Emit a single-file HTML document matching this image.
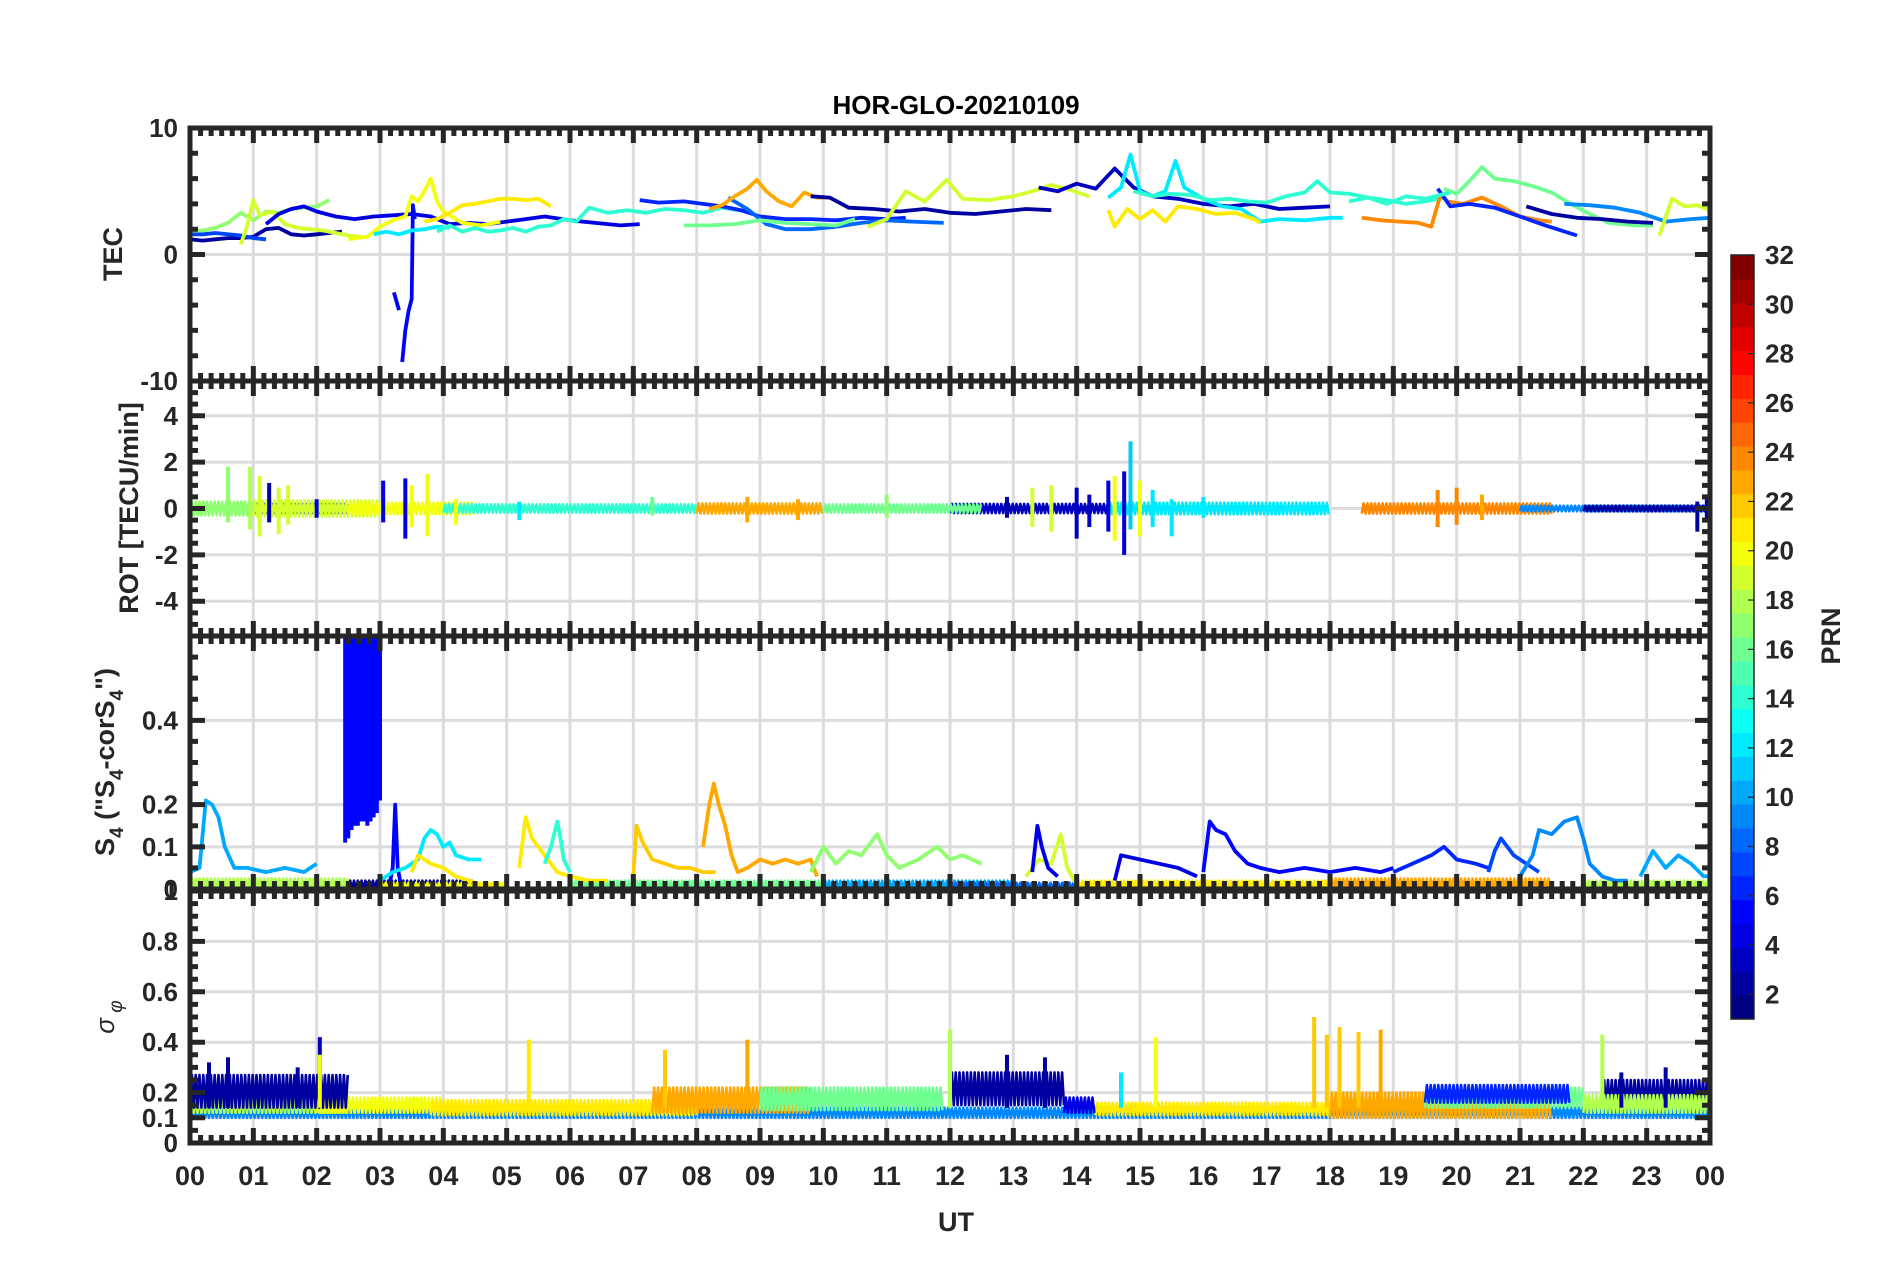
<!DOCTYPE html>
<html><head><meta charset="utf-8"><style>
html,body{margin:0;padding:0;background:#fff;}
svg{display:block;font-family:"Liberation Sans",sans-serif;font-weight:bold;}
</style></head><body>
<svg id="fig" width="1902" height="1272" viewBox="0 0 1902 1272" xmlns="http://www.w3.org/2000/svg">
<text x="956" y="114" text-anchor="middle" font-size="26" fill="#000">HOR-GLO-20210109</text>
<text x="956" y="1231" text-anchor="middle" font-size="27" fill="#262626">UT</text>
<text transform="translate(122,254) rotate(-90)" text-anchor="middle" font-size="27" fill="#262626">TEC</text>
<text transform="translate(138,508) rotate(-90)" text-anchor="middle" font-size="27" fill="#262626">ROT [TECU/min]</text>
<text transform="translate(114,762) rotate(-90)" text-anchor="middle" font-size="27" fill="#262626">S<tspan font-size="19" dy="9">4</tspan><tspan dy="-9"> ("S</tspan><tspan font-size="19" dy="9">4</tspan><tspan dy="-9">-corS</tspan><tspan font-size="19" dy="9">4</tspan><tspan dy="-9">")</tspan></text>
<text transform="translate(114,1017) rotate(-90)" text-anchor="middle" font-size="26" font-weight="normal" font-style="italic" fill="#262626">σ<tspan font-size="19" dy="8"> φ</tspan></text>
<g id="plots"></g>
<g id="cbar"></g>
</svg>
<script>
// ---------- data ----------
const hourLabels = ["00","01","02","03","04","05","06","07","08","09","10","11","12","13","14","15","16","17","18","19","20","21","22","23","00"];
const tecTickVals = [-10,0,10];
const tecTickLabels = ["-10","0","10"];
const rotTickVals = [-4,-2,0,2,4];
const s4TickVals = [0,0.1,0.2,0.4];
const sigTickVals = [0,0.1,0.2,0.4,0.6,0.8,1];
const cbarTickVals = [2,4,6,8,10,12,14,16,18,20,22,24,26,28,30,32];

const tecPrn = [2,7,17,19,4,5,5,20,21,12,14,6,8,23,16,2,19,3,12,14,21,24,16,2,6,9,19,14];
const tecT = [
 [0,0.2,0.4,0.6,0.8,1.0,1.2,1.4,1.6,1.8,2.0,2.2,2.4],
 [0,0.2,0.4,0.6,0.8,1.0,1.2],
 [0,0.2,0.4,0.6,0.8,1.0,1.2,1.4,1.6,1.8,2.0,2.2],
 [0.8,0.9,1.0,1.1,1.3,1.5,1.7,1.9,2.1,2.3,2.5,2.7],
 [1.2,1.4,1.6,1.8,2.0,2.3,2.6,2.9,3.2,3.5,3.8,4.1,4.4,4.7,5.0,5.3,5.6,6.0,6.4,6.8,7.1],
 [3.22,3.3],
 [3.35,3.4,3.45,3.5,3.52,3.55],
 [2.5,2.8,3.0,3.2,3.4,3.5,3.6,3.7,3.8,3.9,4.0,4.3,4.6,4.9],
 [3.7,3.9,4.1,4.3,4.5,4.7,4.9,5.1,5.3,5.5,5.7],
 [2.9,3.1,3.3,3.5,3.7,3.9,4.1],
 [3.9,4.1,4.3,4.5,4.7,4.9,5.1,5.3,5.5,5.7,5.9,6.1,6.3,6.6,6.9,7.2,7.5,7.8,8.1,8.4,8.8],
 [7.1,7.4,7.8,8.1,8.4,8.7,9.0,9.4,9.8,10.2,10.6,11.0,11.3],
 [8.5,8.8,9.1,9.4,9.8,10.2,10.6,11.0,11.4,11.9],
 [8.2,8.4,8.6,8.8,8.95,9.1,9.3,9.5,9.7,9.9,10.1],
 [7.8,8.2,8.6,9.0,9.4,9.8,10.2,10.5],
 [9.8,10.1,10.4,10.8,11.2,11.6,12.0,12.4,12.8,13.2,13.6],
 [10.7,11.0,11.3,11.6,11.95,12.2,12.6,13.0,13.3,13.6,13.9,14.2],
 [13.4,13.7,14.0,14.3,14.6,14.9,15.2,15.6,16.0,16.4,16.8,17.2,17.6,18.0],
 [14.5,14.7,14.85,15.0,15.2,15.4,15.56,15.7,16.0,16.3,16.6,16.9,17.2,17.6,18.0,18.2],
 [14.9,15.2,15.5,15.8,16.1,16.4,16.7,17.0,17.3,17.6,17.8,18.0,18.3,18.6,18.9,19.2,19.5,19.8],
 [14.5,14.6,14.8,15.0,15.2,15.4,15.6,15.9,16.2,16.5,16.8,16.9],
 [18.5,18.8,19.1,19.4,19.6,19.75,19.85,20.1,20.4,20.7,21.0,21.3,21.5],
 [19.8,20.0,20.2,20.4,20.6,20.9,21.2,21.5,21.8,22.1,22.4,22.8,23.1],
 [21.1,21.5,21.9,22.3,22.7,23.1],
 [19.7,19.9,20.2,20.6,21.0,21.4,21.9],
 [21.7,22.1,22.5,22.9,23.3,23.7,24],
 [23.2,23.4,23.6,23.8,24],
 [18.3,18.6,18.9,19.2,19.5,19.9]
];
const tecV = [
 [1.2,1.1,1.2,1.3,1.3,1.4,2.0,2.1,1.6,1.5,1.6,1.7,1.8],
 [1.6,1.6,1.7,1.6,1.5,1.3,1.2],
 [1.9,1.9,2.1,2.5,3.3,2.7,3.4,3.3,3.6,3.7,3.8,4.3],
 [0.8,2.2,4.3,3.1,3.4,2.4,2.1,2.0,1.9,1.7,1.5,1.4],
 [2.4,3.2,3.6,3.8,3.4,3.0,2.8,3.0,3.1,3.2,3.0,2.4,2.5,2.4,2.6,2.8,3.0,2.7,2.5,2.3,2.4],
 [-3.0,-4.4],
 [-8.5,-6,-4.5,-3.5,3.9,2.8],
 [1.2,1.4,2.2,2.7,3.0,4.6,4.2,5.0,6.0,4.2,3.4,2.5,2.3,2.6],
 [2.6,2.8,3.3,3.9,4.0,4.2,4.4,4.4,4.3,4.4,3.8],
 [1.6,1.8,1.6,1.9,2.0,2.2,2.1],
 [1.8,2.3,1.8,2.1,1.8,1.9,2.1,1.8,2.2,2.3,2.8,2.6,3.7,3.3,3.5,3.3,3.6,3.5,3.3,3.7,3.4],
 [4.3,4.1,4.2,4.0,3.8,3.5,3.0,2.8,2.8,2.7,2.9,2.8,2.9],
 [4.5,3.6,2.4,2.0,2.0,2.2,2.5,2.7,2.6,2.5],
 [3.6,3.9,4.6,5.2,5.9,5.0,4.2,3.8,4.9,4.5,4.5],
 [2.3,2.3,2.4,2.7,2.5,2.4,2.3,2.8],
 [4.6,4.5,3.7,3.6,3.4,3.6,3.3,3.2,3.4,3.6,3.5],
 [2.2,2.8,5.0,4.2,5.9,4.4,4.3,4.6,5.0,5.5,5.1,4.6],
 [5.3,5.0,5.6,5.2,6.8,5.3,4.6,4.4,4.0,3.8,4.0,3.6,3.7,3.8],
 [4.5,5.3,7.9,5.0,4.6,5.0,7.4,5.3,4.4,3.8,3.6,2.6,2.8,2.7,2.9,2.9],
 [5.0,4.6,4.8,4.7,4.3,4.4,4.2,4.1,4.6,4.9,5.8,4.9,4.8,4.5,4.3,4.0,4.2,4.5],
 [3.5,2.2,3.6,2.8,3.5,2.6,3.8,3.6,3.2,3.3,2.8,2.5],
 [2.9,2.7,2.6,2.5,2.2,4.8,4.2,4.0,4.5,3.8,3.0,2.7,2.6],
 [5.2,4.8,5.8,6.9,6.0,5.8,5.4,4.9,4.0,3.2,2.5,2.3,2.3],
 [3.8,3.2,2.9,2.8,2.6,2.5],
 [5.2,3.8,4.0,3.7,3.0,2.3,1.5],
 [4.0,3.9,3.7,3.3,2.6,2.8,2.9],
 [1.5,4.4,3.8,3.9,3.5],
 [4.2,4.5,4.0,4.6,4.4,4.9]
];

const rotBandPrn = [2,17,19,20,14,23,21,3,12,16,24,9,2];
const rotBandStart = [0,0,1,2.5,4,8,14.5,12,14.5,10,18.5,21,22];
const rotBandEnd = [2.5,1,3,4.5,8,10,17,14.5,18,12.5,21.5,24,24];
const rotBandAmp = [0.2,0.3,0.35,0.25,0.18,0.22,0.25,0.2,0.25,0.18,0.22,0.12,0.12];
const rotSpikeT = [0.6,0.95,1.1,1.25,1.4,1.55,2.0,3.05,3.4,3.5,3.75,4.2,5.2,7.3,8.8,9.6,11.0,12.9,13.3,13.6,14.0,14.2,14.5,14.6,14.75,14.85,15.0,15.2,15.5,16.0,19.7,20.0,20.4,23.8,23.95];
const rotSpikeHi = [1.8,1.8,1.4,1.1,0.9,1.0,0.4,1.2,1.3,1.0,1.5,0.4,0.3,0.5,0.5,0.4,0.6,0.5,0.9,1.0,0.9,0.6,1.2,1.4,1.6,2.9,1.2,0.8,0.4,0.5,0.8,0.9,0.6,0.3,0.4];
const rotSpikeLo = [-0.6,-0.9,-1.2,-0.6,-1.1,-0.7,-0.4,-0.6,-1.3,-0.8,-1.2,-0.7,-0.5,-0.3,-0.6,-0.5,-0.4,-0.4,-0.8,-1.0,-1.3,-0.8,-1.0,-1.4,-2.0,-0.9,-1.2,-0.8,-1.2,-0.4,-0.8,-0.7,-0.5,-1.0,-0.6];
const rotSpikePrn = [17,18,19,2,19,19,4,4,4,20,20,20,12,16,23,23,17,2,19,19,3,3,4,20,4,11,20,12,12,12,24,24,23,2,2];

const s4Prn = [10,5,12,21,21,14,22,23,17,19,4,4,5,6,7,9,10];
const s4T = [
 [0.0,0.15,0.25,0.35,0.45,0.55,0.7,0.9,1.2,1.5,1.8,2.0],
 [3.15,3.2,3.24,3.28,3.33],
 [3.0,3.2,3.4,3.6,3.7,3.8,3.9,4.0,4.1,4.2,4.4,4.6],
 [3.5,3.6,3.8,4.0,4.2,4.4,4.6,4.9],
 [5.2,5.3,5.4,5.5,5.6,5.7,5.8,6.0,6.3,6.6],
 [5.6,5.7,5.8,5.85,5.9,6.0],
 [7.0,7.05,7.15,7.3,7.5,7.7,7.9,8.1,8.3],
 [8.1,8.2,8.27,8.35,8.45,8.55,8.65,8.8,9.0,9.2,9.4,9.6,9.8,9.9],
 [9.8,10.0,10.2,10.4,10.6,10.85,11.0,11.2,11.5,11.8,12.0,12.2,12.5],
 [13.2,13.4,13.6,13.75,13.85,14.0],
 [13.3,13.38,13.45,13.55,13.7],
 [14.6,14.7,15.0,15.3,15.6,15.9],
 [16.0,16.1,16.2,16.35,16.5,16.7,16.9,17.2,17.6,18.0,18.4,18.8,19.0],
 [19.0,19.3,19.6,19.8,20.0,20.3,20.5],
 [20.5,20.6,20.7,20.9,21.1,21.3],
 [21.0,21.2,21.3,21.5,21.7,21.9,22.0,22.1,22.3,22.5,22.7],
 [22.9,23.1,23.3,23.5,23.7,23.9,24]
];
const s4V = [
 [0.04,0.05,0.21,0.2,0.17,0.1,0.05,0.05,0.04,0.05,0.04,0.06],
 [0.01,0.05,0.2,0.05,0.01],
 [0.02,0.04,0.05,0.07,0.12,0.14,0.13,0.1,0.11,0.08,0.07,0.07],
 [0.04,0.08,0.06,0.05,0.03,0.02,0.01,0.01],
 [0.05,0.17,0.12,0.1,0.08,0.06,0.04,0.03,0.02,0.02],
 [0.06,0.1,0.16,0.12,0.07,0.04],
 [0.03,0.15,0.11,0.07,0.06,0.05,0.05,0.04,0.04],
 [0.1,0.2,0.25,0.2,0.15,0.08,0.04,0.05,0.07,0.06,0.07,0.06,0.07,0.03],
 [0.04,0.1,0.06,0.09,0.08,0.13,0.08,0.05,0.07,0.1,0.07,0.08,0.06],
 [0.03,0.07,0.06,0.13,0.05,0.01],
 [0.04,0.15,0.1,0.05,0.03],
 [0.02,0.08,0.07,0.06,0.05,0.03],
 [0.04,0.16,0.14,0.13,0.09,0.06,0.05,0.04,0.05,0.04,0.05,0.04,0.05],
 [0.04,0.06,0.08,0.1,0.07,0.06,0.05],
 [0.04,0.09,0.12,0.08,0.06,0.04],
 [0.03,0.08,0.14,0.13,0.16,0.17,0.12,0.06,0.03,0.02,0.02],
 [0.03,0.09,0.05,0.08,0.06,0.03,0.03]
];
const s4BlockPrn = 5;
const s4BlockT = [2.45,2.5,2.55,2.6,2.65,2.7,2.75,2.8,2.85,2.9,2.95,3.0];
const s4BlockLow = [0.14,0.15,0.17,0.18,0.18,0.19,0.19,0.18,0.19,0.2,0.21,0.24];
const s4BlockTop = 0.6;
const s4BasePrn = [18,2,20,16,10,21,23,18,8];
const s4BaseStart = [0,2.5,3,6,10,14,18,22,12];
const s4BaseEnd = [2.5,4.5,5,10,13,18,21.5,24,14];
const s4BaseHi = [0.025,0.02,0.015,0.02,0.02,0.02,0.025,0.02,0.015];

const sigBandPrn = [9,18,20,21,23,16,21,2,2,2,4,23,16,6,18];
const sigBandStart = [0,0,2,3.8,7.3,9,14.3,0,12,22.3,13.8,18,19.5,19.5,22];
const sigBandEnd = [24,2.5,4,8,9.8,11.9,18,2.5,13.8,24,14.3,21.5,22,21.8,24];
const sigBandLo = [0.1,0.12,0.12,0.11,0.12,0.13,0.11,0.14,0.15,0.14,0.12,0.1,0.14,0.16,0.12];
const sigBandHi = [0.14,0.19,0.18,0.17,0.22,0.22,0.16,0.27,0.28,0.25,0.18,0.2,0.22,0.23,0.19];
const sigSpikeT = [2.05,2.05,5.35,7.5,8.8,12.0,15.25,14.7,17.75,17.95,18.15,18.45,18.8,22.3,12.9,13.5,0.6,0.3,1.7,22.6,23.3];
const sigSpikeV = [0.42,0.35,0.41,0.37,0.41,0.45,0.42,0.28,0.5,0.43,0.46,0.44,0.45,0.43,0.35,0.34,0.34,0.32,0.3,0.28,0.3];
const sigSpikePrn = [3,20,21,22,23,18,20,12,22,22,22,22,23,18,2,2,2,2,2,2,2];

// ---------- layout ----------
const NS = "http://www.w3.org/2000/svg";
const X0 = 190, X1 = 1710;
function xs(h){ return X0 + (X1 - X0) * h / 24; }
const panels = [
 {top:128, bot:381, min:-10, max:10, majors:tecTickVals, labels:tecTickLabels, grid:[0], minorStep:2, name:'tec'},
 {top:381, bot:636, min:-5.5, max:5.5, majors:rotTickVals, labels:rotTickVals.map(String), grid:rotTickVals, minorStep:0.5, name:'rot'},
 {top:636, bot:889, min:0, max:0.6, majors:s4TickVals, labels:s4TickVals.map(String), grid:[0.1,0.2,0.4], minorStep:0.05, name:'s4'},
 {top:891, bot:1143, min:0, max:1, majors:sigTickVals, labels:sigTickVals.map(String), grid:[0.1,0.2,0.4,0.6,0.8], minorStep:0.05, name:'sigma-phi'}
];
function ys(p, v){ return p.bot - (v - p.min) / (p.max - p.min) * (p.bot - p.top); }
function jet(prn){
  const x = (prn - 1) / 31;
  const c = t => Math.round(255 * Math.max(0, Math.min(1, t)));
  return `rgb(${c(1.5-Math.abs(4*x-3))},${c(1.5-Math.abs(4*x-2))},${c(1.5-Math.abs(4*x-1))})`;
}
function mk(tag, attrs, parent){
  const e = document.createElementNS(NS, tag);
  for (const k in attrs) e.setAttribute(k, attrs[k]);
  parent.appendChild(e);
  return e;
}
const root = document.getElementById('plots');
const defs = mk('defs', {}, root);
const AX = '#262626';

panels.forEach((p, pi) => {
  const cp = mk('clipPath', {id:'clip'+pi}, defs);
  mk('rect', {x:X0, y:p.top, width:X1-X0, height:p.bot-p.top}, cp);
  const g = mk('g', {}, root);
  
  
  for (let h = 1; h < 24; h++) {
    const l = mk('line', {x1:xs(h), x2:xs(h), y1:p.top, y2:p.bot, stroke:'#dcdcdc', 'stroke-width':3}, g);
    
    
  }
  p.grid.forEach(v => {
    const l = mk('line', {x1:X0, x2:X1, y1:ys(p,v), y2:ys(p,v), stroke:'#dcdcdc', 'stroke-width':3}, g);
    
    
  });
  p.data = mk('g', {'clip-path':`url(#clip${pi})`}, g);
  
  
  p.g = g;
});

function poly(p, ts, vs, prn, name, w){
  const pts = ts.map((t,i) => xs(t).toFixed(1) + ',' + ys(p, vs[i]).toFixed(1)).join(' ');
  const e = mk('polyline', {points:pts, fill:'none', stroke:jet(prn), 'stroke-width':w||3.8, 'stroke-linejoin':'round'}, p.data);
  
  
}
// dense noisy band: zig-zag between lo and hi
function band(p, t0, t1, lo, hi, prn, name){
  const step = 0.03;
  const pts = [];
  let k = 0;
  for (let t = t0; t <= t1 + 1e-9; t += step, k++) {
    const v = (k % 2 === 0) ? lo : hi;
    pts.push(xs(t).toFixed(1) + ',' + ys(p, v).toFixed(1));
  }
  const e = mk('polyline', {points:pts.join(' '), fill:'none', stroke:jet(prn), 'stroke-width':2.6, 'stroke-linejoin':'round'}, p.data);
  
  
}
function spike(p, t, lo, hi, prn, name){
  const e = mk('line', {x1:xs(t), x2:xs(t), y1:ys(p,lo), y2:ys(p,hi), stroke:jet(prn), 'stroke-width':4}, p.data);
  
  
}

// TEC
tecPrn.forEach((prn,i) => poly(panels[0], tecT[i], tecV[i], prn, 'tec-trace-prn' + prn));
// ROT
rotBandPrn.forEach((prn,i) => band(panels[1], rotBandStart[i], rotBandEnd[i], -rotBandAmp[i], rotBandAmp[i], prn, 'rot-band-prn' + prn));
rotSpikeT.forEach((t,i) => spike(panels[1], t, rotSpikeLo[i], rotSpikeHi[i], rotSpikePrn[i], 'rot-spike'));
// S4
s4BasePrn.forEach((prn,i) => band(panels[2], s4BaseStart[i], s4BaseEnd[i], 0, s4BaseHi[i], prn, 's4-baseline-prn' + prn));
(function(){
  const p = panels[2];
  const pts = s4BlockT.map((t,i) => xs(t).toFixed(1)+','+ys(p,s4BlockLow[i]).toFixed(1));
  pts.push(xs(s4BlockT[s4BlockT.length-1]).toFixed(1)+','+ys(p,s4BlockTop).toFixed(1));
  pts.push(xs(s4BlockT[0]).toFixed(1)+','+ys(p,s4BlockTop).toFixed(1));
  const e = mk('polygon', {points:pts.join(' '), fill:jet(s4BlockPrn), stroke:jet(s4BlockPrn), 'stroke-width':3}, p.data);
  
  
  s4BlockT.forEach((t,i) => spike(p, t, s4BlockLow[i] - 0.03, s4BlockTop, s4BlockPrn, 's4-burst-line'));
})();
s4Prn.forEach((prn,i) => poly(panels[2], s4T[i], s4V[i], prn, 's4-trace-prn' + prn));
// sigma phi
sigBandPrn.forEach((prn,i) => band(panels[3], sigBandStart[i], sigBandEnd[i], sigBandLo[i], sigBandHi[i], prn, 'sigma-band-prn' + prn));
sigSpikeT.forEach((t,i) => spike(panels[3], t, 0.14, sigSpikeV[i], sigSpikePrn[i], 'sigma-spike'));

// frames, ticks, labels
panels.forEach((p, pi) => {
  const g = p.g;
  const fr = mk('rect', {x:X0, y:p.top, width:X1-X0, height:p.bot-p.top, fill:'none', stroke:AX, 'stroke-width':5}, g);
  
  
  let d = '';
  for (let k = 0; k <= 144; k++) {
    const x = xs(k/6); const L = (k % 6 === 0) ? 15 : 8;
    d += `M${x},${p.top}v${L}M${x},${p.bot}v${-L}`;
  }
  const start = Math.ceil(p.min / p.minorStep - 1e-6);
  for (let k = start; k * p.minorStep <= p.max + 1e-9; k++) {
    const v = k * p.minorStep; const y = ys(p, v);
    const isMaj = p.majors.some(m => Math.abs(m - v) < 1e-6);
    const L = isMaj ? 15 : 8;
    d += `M${X0},${y}h${L}M${X1},${y}h${-L}`;
  }
  const tk = mk('path', {d:d, stroke:AX, 'stroke-width':5, fill:'none'}, g);
  
  
  p.majors.forEach((v, i) => {
    const t = mk('text', {x:178, y:ys(p,v)+9, 'text-anchor':'end', 'font-size':26, fill:AX}, g);
    t.textContent = p.labels[i];
    
    
  });
});
hourLabels.forEach((s, h) => {
  const t = mk('text', {x:xs(h), y:1185, 'text-anchor':'middle', 'font-size':27, fill:AX}, root);
  t.textContent = s;
  
  
});

// colorbar
const cb = document.getElementById('cbar');


const CBX = 1731, CBW = 23, CBT = 255, CBB = 1019;
function cy(v){ return CBB - (v - 1) / 31 * (CBB - CBT); }
for (let i = 1; i <= 32; i++) {
  const r = mk('rect', {x:CBX, y:CBT + (32 - i) * (CBB - CBT) / 32, width:CBW, height:(CBB - CBT)/32 + 0.6, fill:jet(i)}, cb);
  
  
}
const cbf = mk('rect', {x:CBX, y:CBT, width:CBW, height:CBB-CBT, fill:'none', stroke:AX, 'stroke-width':1.5}, cb);


cbarTickVals.forEach(v => {
  const l = mk('line', {x1:CBX+CBW-6, x2:CBX+CBW, y1:cy(v), y2:cy(v), stroke:AX, 'stroke-width':1.2}, cb);
  
  
  const t = mk('text', {x:1765, y:cy(v)+9, 'font-size':26, fill:AX}, cb);
  t.textContent = String(v);
  
  
});
const prnT = mk('text', {transform:'translate(1840,636) rotate(-90)', 'text-anchor':'middle', 'font-size':27, fill:AX}, cb);
prnT.textContent = 'PRN';


</script>
</body></html>
